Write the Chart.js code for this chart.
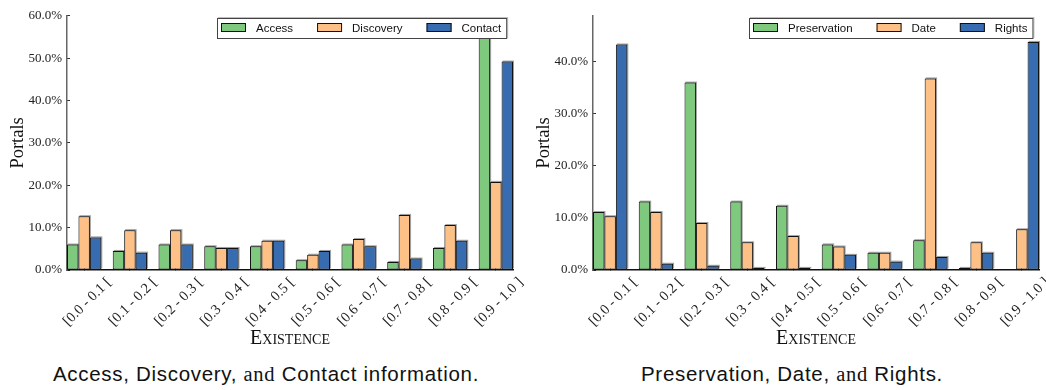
<!DOCTYPE html>
<html>
<head>
<meta charset="utf-8">
<script src="https://cdn.jsdelivr.net/npm/chart.js@4/dist/chart.umd.min.js"></script>
<style>
  html, body { margin: 0; padding: 0; background: #fff; }
  #wrap { position: relative; width: 1046px; height: 390px; overflow: hidden; }
  .pane { position: absolute; top: 0; height: 360px; }
  .cap { position: absolute; top: 362px; line-height: 24px; font-family: "Liberation Sans", Arial, sans-serif;
         font-size: 20.5px; letter-spacing: 0.7px; color: #111; text-align: center; white-space: nowrap; }
  .cap .s { font-family: "Liberation Serif", serif; }
</style>
</head>
<body>
<div id="wrap">
  <div class="pane" style="left:0;width:526px"><canvas id="c1" width="526" height="360"></canvas></div>
  <div class="pane" style="left:526px;width:520px"><canvas id="c2" width="520" height="360"></canvas></div>
  <div class="cap" style="left:0;width:532px">Access, Discovery, <span class="s">and</span> Contact information.</div>
  <div class="cap" style="left:526px;width:532px">Preservation, Date, <span class="s">and</span> Rights.</div>
</div>
<script>
// Existence score bins
const bins = ['[0.0 - 0.1 [', '[0.1 - 0.2 [', '[0.2 - 0.3 [', '[0.3 - 0.4 [', '[0.4 - 0.5 [',
              '[0.5 - 0.6 [', '[0.6 - 0.7 [', '[0.7 - 0.8 [', '[0.8 - 0.9 [', '[0.9 - 1.0 ]'];

// Share of portals per bin (%)
const access       = [6.0, 4.5, 6.0, 5.6, 5.6, 2.3, 6.0, 1.9, 5.2, 57.1];
const discovery    = [12.7, 9.4, 9.4, 5.2, 6.9, 3.6, 7.3, 13.0, 10.6, 20.8];
const contact      = [7.7, 4.1, 6.0, 5.2, 6.9, 4.5, 5.6, 2.7, 6.9, 49.2];

const preservation = [11.1, 13.1, 35.9, 13.1, 12.3, 4.9, 3.3, 5.7, 0.4, 0.0];
const date         = [10.3, 11.1, 9.0, 5.3, 6.5, 4.5, 3.3, 36.7, 5.3, 7.8];
const rights       = [43.2, 1.2, 0.8, 0.4, 0.4, 2.9, 1.6, 2.5, 3.3, 43.7];

// Y axis ranges and ticks
const yMaxLeft = 60.0;
const yTicksLeft = [0, 10, 20, 30, 40, 50, 60];
const yMaxRight = 48.7;
const yTicksRight = [0, 10, 20, 30, 40];

const GREEN = '#7fc97f', ORANGE = '#fdc086', BLUE = '#386cb0';

// Framed legend drawn inside the plot, top-right corner
const boxLegend = {
  id: 'boxLegend',
  afterDraw(chart) {
    const ctx = chart.ctx, area = chart.chartArea;
    const items = chart.data.datasets;
    ctx.save();
    ctx.font = '11.5px "Liberation Sans", Arial, sans-serif';
    const pad = 4, sw = 25, sh = 9, gap = 10, sep = 24, endPad = 6, h = 21;
    let w = pad + endPad;
    items.forEach((d, i) => {
      w += sw + gap + ctx.measureText(d.label).width + (i < items.length - 1 ? sep : 0);
    });
    const x0 = Math.round(area.right - 6 - w), y0 = 18;
    ctx.fillStyle = 'rgba(0,0,0,0.25)';
    ctx.fillRect(x0 + 1, y0 - 1, w, h);
    ctx.fillStyle = '#fff';
    ctx.fillRect(x0, y0, w, h);
    ctx.strokeStyle = '#444';
    ctx.lineWidth = 1;
    ctx.strokeRect(x0 + 0.5, y0 + 0.5, w - 1, h - 1);
    let x = x0 + pad;
    items.forEach(d => {
      ctx.fillStyle = d.backgroundColor;
      ctx.fillRect(x, y0 + 5, sw, sh);
      ctx.strokeStyle = '#111';
      ctx.strokeRect(x + 0.5, y0 + 5.5, sw - 1, sh - 1);
      x += sw + gap;
      ctx.fillStyle = '#111';
      ctx.textBaseline = 'middle';
      ctx.fillText(d.label, x, y0 + h / 2 + 0.5);
      x += ctx.measureText(d.label).width + sep;
    });
    ctx.restore();
  }
};

// Soft grey edge behind each bar
const barHalo = {
  id: 'barHalo',
  beforeDatasetsDraw(chart) {
    const ctx = chart.ctx;
    ctx.save();
    ctx.fillStyle = 'rgba(0,0,0,0.38)';
    chart.data.datasets.forEach((d, i) => {
      chart.getDatasetMeta(i).data.forEach(b => {
        const p = b.getProps(['x', 'y', 'base', 'width'], true);
        if (p.base - p.y < 0.5) return;
        ctx.fillRect(p.x - p.width / 2 + 1, p.y - 1, p.width, p.base - p.y);
      });
    });
    ctx.restore();
  }
};

function pts(values) {
  return values.map((v, i) => ({ x: i, y: v }));
}

function makeChart(id, series, yMax, yTicks, topPad, rightPad) {
  return new Chart(document.getElementById(id), {
    type: 'bar',
    data: {
      datasets: series.map(s => ({
        label: s.label,
        data: pts(s.values),
        backgroundColor: s.color,
        borderColor: '#111',
        borderWidth: 1,
        borderSkipped: false,
        categoryPercentage: 0.75,
        barPercentage: 1.0
      }))
    },
    options: {
      responsive: false,
      devicePixelRatio: 1,
      animation: false,
      layout: { padding: { top: topPad, right: rightPad, left: 0, bottom: 0 } },
      plugins: { legend: { display: false }, tooltip: { enabled: false } },
      scales: {
        x: {
          type: 'linear',
          min: -0.375,
          max: 9.375,
          offset: false,
          z: 1,
          afterBuildTicks: s => { s.ticks = bins.map((_, i) => ({ value: i })); },
          afterFit: s => { s.height = 90; },
          ticks: {
            autoSkip: false,
            minRotation: 45,
            maxRotation: 45,
            labelOffset: 25,
            padding: 7,
            color: '#222',
            font: { family: '"Liberation Serif", serif', size: 14.5 },
            callback: v => bins[v]
          },
          grid: { offset: false, drawOnChartArea: false, drawTicks: true, tickLength: -3, tickColor: '#222', tickWidth: 1 },
          border: { display: true, color: '#111', width: 1.5 },
          title: {
            display: true,
            text: 'Existence',
            color: '#111',
            font: { family: '"Liberation Serif", serif', size: 20, weight: 'small-caps' },
            padding: { top: 0, bottom: 9 }
          }
        },
        y: {
          type: 'linear',
          min: 0,
          max: yMax,
          afterBuildTicks: s => { s.ticks = yTicks.map(v => ({ value: v })); },
          afterFit: s => { s.width = 67; },
          ticks: {
            padding: 8,
            color: '#222',
            font: { family: '"Liberation Serif", serif', size: 13 },
            callback: v => v.toFixed(1) + '%'
          },
          grid: { drawOnChartArea: false, drawTicks: true, tickLength: -3, tickColor: '#333' },
          border: { display: true, color: '#666', width: 1.5 },
          title: {
            display: true,
            text: 'Portals',
            color: '#111',
            font: { family: '"Liberation Serif", serif', size: 18.5 },
            padding: { top: 7, bottom: 0 }
          }
        }
      }
    },
    plugins: [barHalo, boxLegend]
  });
}

makeChart('c1', [
  { label: 'Access', values: access, color: GREEN },
  { label: 'Discovery', values: discovery, color: ORANGE },
  { label: 'Contact', values: contact, color: BLUE }
], yMaxLeft, yTicksLeft, 14, 13);

makeChart('c2', [
  { label: 'Preservation', values: preservation, color: GREEN },
  { label: 'Date', values: date, color: ORANGE },
  { label: 'Rights', values: rights, color: BLUE }
], yMaxRight, yTicksRight, 12, 7);
</script>
</body>
</html>
